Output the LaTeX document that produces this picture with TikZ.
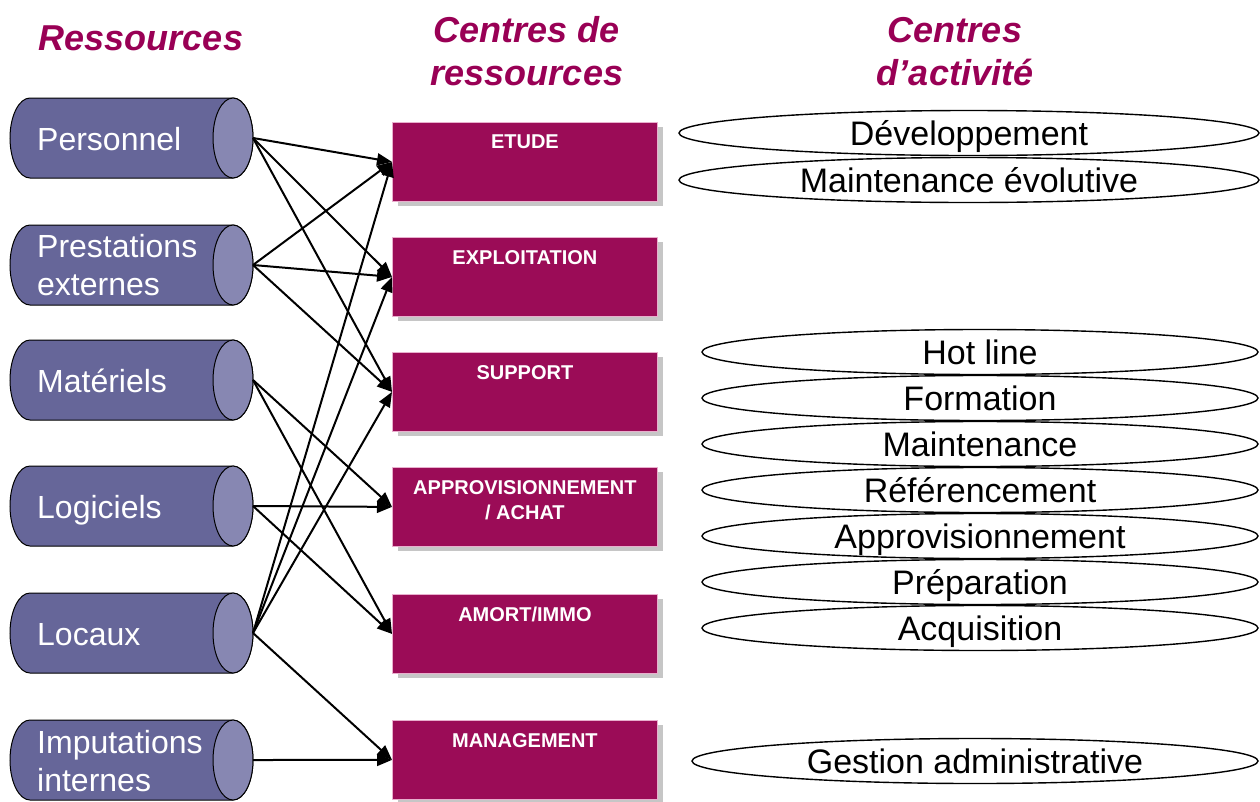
\documentclass[tikz,border=0pt]{standalone}
\usepackage{fontspec}
\setmainfont{Liberation Sans}
\usetikzlibrary{arrows.meta,shapes.geometric,shadows}
\definecolor{titlec}{RGB}{153,0,85}
\definecolor{boxc}{RGB}{155,12,87}
\definecolor{cylbody}{RGB}{102,102,153}
\definecolor{cylcap}{RGB}{135,135,178}
\definecolor{boxedge}{RGB}{232,175,205}
\newcommand\rescyl[2]{%
  \filldraw[fill=cylbody, line width=1pt] (233,#1-40) -- (30,#1-40)
    arc[start angle=270, end angle=90, x radius=20, y radius=40]
    -- (233,#1+40)
    arc[start angle=90, end angle=-90, x radius=20, y radius=40] -- cycle;
  \filldraw[fill=cylcap, line width=1pt] (233,#1) ellipse[x radius=20, y radius=40];
  \coordinate (#2) at (253,#1);
}
\begin{document}
\begin{tikzpicture}[x=1pt,y=-1pt,
  title/.style={font=\fontsize{36}{43}\selectfont\bfseries\itshape, text=titlec, inner sep=0pt, anchor=base},
  cyltxt/.style={font=\fontsize{32}{38}\selectfont, text=white, inner sep=0pt, anchor=base west},
  cbox/.style={rectangle, fill=boxc, draw=boxedge, line width=0.8pt, minimum width=265pt, minimum height=79pt, inner sep=0pt, anchor=north west,
    general shadow={fill=gray!45, shadow xshift=6pt, shadow yshift=-5pt}},
  boxlbl/.style={font=\fontsize{20}{25}\selectfont\bfseries, text=white, inner sep=0pt, anchor=north, align=center},
  act/.style={ellipse, draw=black, line width=1.4pt, inner sep=0pt, minimum height=45pt, font=\fontsize{34}{40}\selectfont, text height=25pt, text depth=0pt},
  actup/.style={act, minimum width=580pt},
  actlow/.style={act, minimum width=556pt},
  arr/.style={line width=2pt, -{Triangle[length=15pt,width=12pt]}}
]
\useasboundingbox (0,0) rectangle (1260,801);

% titles
\node[title] (t1) at (141,50) {Ressources};
\node[title] (t2a) at (527,42) {Centres de};
\node[title] (t2b) at (527,85) {ressources};
\node[title] (t3a) at (955,42) {Centres};
\node[title] (t3b) at (955,85) {d’activité};

% resources (cylinders)
\rescyl{138}{c1}
\rescyl{265}{c2}
\rescyl{380}{c3}
\rescyl{506}{c4}
\rescyl{633}{c5}
\rescyl{760}{c6}
\node[cyltxt] (l1) at (37,150) {Personnel};
\node[cyltxt] (l2a) at (37,257) {Prestations};
\node[cyltxt] (l2b) at (37,295) {externes};
\node[cyltxt] (l3) at (37,392) {Matériels};
\node[cyltxt] (l4) at (37,518) {Logiciels};
\node[cyltxt] (l5) at (37,645) {Locaux};
\node[cyltxt] (l6a) at (37,753) {Imputations};
\node[cyltxt] (l6b) at (37,791) {internes};

% resource centres
\node[cbox] (etude) at (392,122) {};
\node[cbox] (exploit) at (392,237) {};
\node[cbox] (support) at (392,352) {};
\node[cbox] (appro) at (392,467) {};
\node[cbox] (amort) at (392,594) {};
\node[cbox] (manag) at (392,720) {};
\node[boxlbl] (etudeT) at ([yshift=-13pt]etude.north) {ETUDE};
\node[boxlbl] (exploitT) at ([yshift=-13pt]exploit.north) {EXPLOITATION};
\node[boxlbl] (supportT) at ([yshift=-13pt]support.north) {SUPPORT};
\node[boxlbl] (approT) at ([yshift=-13pt]appro.north) {APPROVISIONNEMENT\\/ ACHAT};
\node[boxlbl] (amortT) at ([yshift=-13pt]amort.north) {AMORT/IMMO};
\node[boxlbl] (managT) at ([yshift=-13pt]manag.north) {MANAGEMENT};

% activity centres
\node[actup] (a1) at (969,133) {Développement};
\node[actup] (a2) at (969,180) {Maintenance évolutive};
\node[actlow] (a3) at (980,352) {Hot line};
\node[actlow] (a4) at (980,398) {Formation};
\node[actlow] (a5) at (980,444) {Maintenance};
\node[actlow] (a6) at (980,490) {Référencement};
\node[actlow] (a7) at (980,536) {Approvisionnement};
\node[actlow] (a8) at (980,582) {Préparation};
\node[actlow] (a9) at (980,628) {Acquisition};
\node[act, minimum width=566pt] (a10) at (975,761) {Gestion administrative};

% connectors
\draw[arr] (c1) -- (etude.west);
\draw[arr] (c1) -- (exploit.west);
\draw[arr] (c1) -- (support.west);
\draw[arr] (c2) -- (etude.west);
\draw[arr] (c2) -- (exploit.west);
\draw[arr] (c2) -- (support.west);
\draw[arr] (c3) -- (appro.west);
\draw[arr] (c3) -- (amort.west);
\draw[arr] (c4) -- (appro.west);
\draw[arr] (c4) -- (amort.west);
\draw[arr] (c5) -- (etude.west);
\draw[arr] (c5) -- (exploit.west);
\draw[arr] (c5) -- (support.west);
\draw[arr] (c5) -- (manag.west);
\draw[arr] (c6) -- (manag.west);
\end{tikzpicture}
\end{document}
